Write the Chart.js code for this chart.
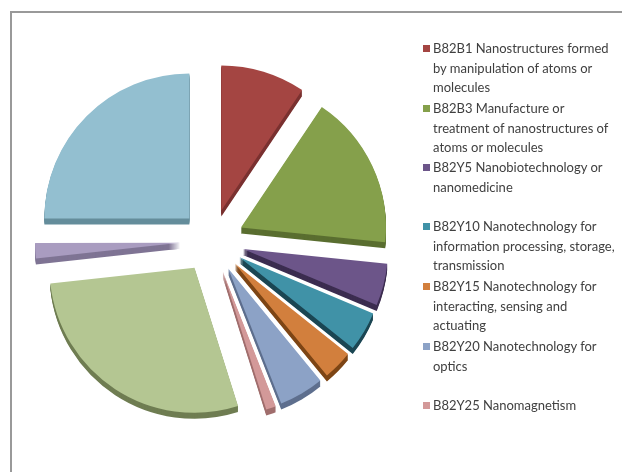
<!DOCTYPE html>
<html>
<head>
<meta charset="utf-8">
<script src="https://cdn.jsdelivr.net/npm/chart.js@4/dist/chart.umd.min.js"></script>
<style>
  html, body { margin: 0; padding: 0; background: #fff; }
  #wrap { position: relative; width: 622px; height: 472px; overflow: hidden; background: #fff; }
  #frame { position: absolute; left: 10px; top: 11px; width: 700px; height: 600px; border-left: 2px solid #999; border-top: 2px solid #999; }
  #c { position: absolute; left: 0; top: 0; }
  #legend { position: absolute; left: 0; top: 0; width: 622px; height: 472px; pointer-events: none;
            font-family: Lato, "Open Sans", sans-serif; font-size: 13px; color: #404040; }
  .item { position: absolute; left: 433px; line-height: 19.5px; white-space: nowrap; }
  .sw { position: absolute; left: -10px; top: 6px; width: 7px; height: 7px; }
</style>
</head>
<body>
<div id="wrap">
  <div id="frame"></div>
  <canvas id="c" width="622" height="472"></canvas>
  <div id="legend"></div>
</div>
<script>
// ---- data (share of total in %) ----
const categories = [
  "B82B1 Nanostructures formed by manipulation of atoms or molecules",
  "B82B3 Manufacture or treatment of nanostructures of atoms or molecules",
  "B82Y5 Nanobiotechnology or nanomedicine",
  "B82Y10 Nanotechnology for information processing, storage, transmission",
  "B82Y15 Nanotechnology for interacting, sensing and actuating",
  "B82Y20 Nanotechnology for optics",
  "B82Y25 Nanomagnetism",
  "B82Y30 Nanotechnology for materials or surface science",
  "B82Y35 Methods or apparatus for measurement or analysis of nanostructures",
  "B82Y40 Manufacture or treatment of nanostructures"
];
const legendLines = [
  ["B82B1 Nanostructures formed", "by manipulation of atoms or", "molecules"],
  ["B82B3 Manufacture or", "treatment of nanostructures of", "atoms or molecules"],
  ["B82Y5 Nanobiotechnology or", "nanomedicine"],
  ["B82Y10 Nanotechnology for", "information processing, storage,", "transmission"],
  ["B82Y15 Nanotechnology for", "interacting, sensing and", "actuating"],
  ["B82Y20 Nanotechnology for", "optics"],
  ["B82Y25 Nanomagnetism"]
];
const shares = [9.4, 17.2, 4.7, 4.4, 3.3, 5.0, 1.1, 28.1, 1.7, 25.0];

// ---- styles ----
const faceColors = ["#A44542", "#85A04B", "#6C5589", "#4092A7", "#D27F3D", "#8CA2C6", "#D39999", "#B4C692", "#A99CC0", "#93BFD0"];
const sideColors = ["#7A3130", "#5A6E30", "#3C2D50", "#1B4653", "#7D4515", "#5E6F8E", "#A06E6D", "#6F7D52", "#7F7494", "#658D9B"];
const EXPLODE = 32;
const DEPTH = 6;

const explode3d = {
  id: 'explode3d',
  beforeDatasetDraw(chart, args) {
    const ctx = chart.ctx;
    const arcs = args.meta.data;
    const shift = arcs.map(a => {
      const mid = (a.startAngle + a.endAngle) / 2;
      return [Math.cos(mid) * EXPLODE, Math.sin(mid) * EXPLODE];
    });
    arcs.forEach((a, i) => {
      const face = a.options.backgroundColor;
      a.options.backgroundColor = sideColors[i];
      for (let d = DEPTH; d >= 1; d--) {
        ctx.save();
        ctx.translate(shift[i][0], shift[i][1] + d);
        a.draw(ctx);
        ctx.restore();
      }
      a.options.backgroundColor = face;
    });
    arcs.forEach((a, i) => {
      ctx.save();
      ctx.translate(shift[i][0], shift[i][1]);
      a.draw(ctx);
      ctx.restore();
    });
    return false;
  }
};

new Chart(document.getElementById('c'), {
  type: 'pie',
  data: {
    labels: categories,
    datasets: [{
      data: shares,
      backgroundColor: faceColors,
      borderWidth: 0,
      borderColor: 'rgba(0,0,0,0)',
      offset: 0,
      radius: 145
    }]
  },
  options: {
    responsive: false,
    animation: false,
    events: [],
    layout: { padding: { left: 20, right: 218, top: 20, bottom: 10 } },
    plugins: { legend: { display: false }, tooltip: { enabled: false } }
  },
  plugins: [explode3d]
});

// ---- HTML legend ----
const legendTops = [49, 109, 168, 227, 287, 347, 406];
const lg = document.getElementById('legend');
legendLines.forEach((lines, i) => {
  const d = document.createElement('div');
  d.className = 'item';
  d.style.top = (legendTops[i] - 9.75) + 'px';
  const sw = document.createElement('span');
  sw.className = 'sw';
  sw.style.background = faceColors[i];
  d.appendChild(sw);
  lines.forEach((t, j) => {
    if (j) d.appendChild(document.createElement('br'));
    d.appendChild(document.createTextNode(t));
  });
  lg.appendChild(d);
});
</script>
</body>
</html>
